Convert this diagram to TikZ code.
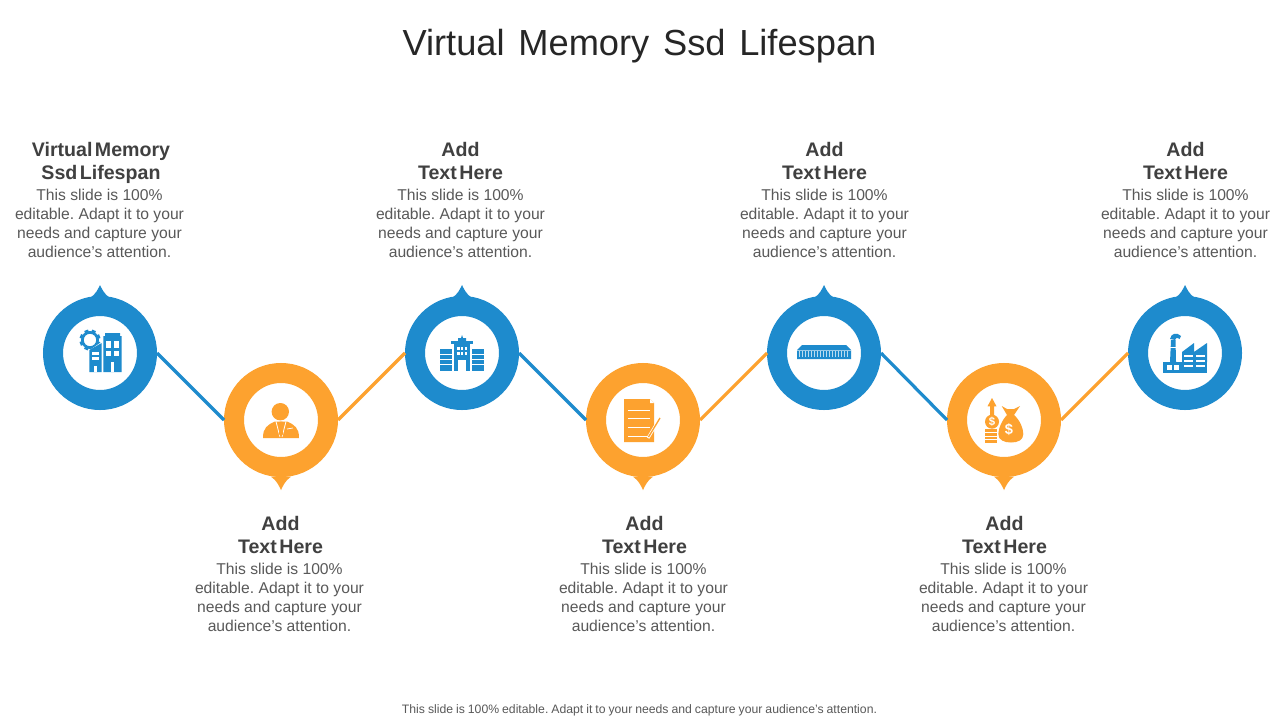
\documentclass[tikz,border=0pt]{standalone}
\usepackage{fontspec}
\setmainfont{Liberation Sans}
\newfontfamily\headfont{Liberation Sans Bold}
\definecolor{bluec}{HTML}{1E8BCD}
\definecolor{orangec}{HTML}{FDA22F}
\definecolor{headc}{HTML}{404040}
\definecolor{bodyc}{HTML}{595959}
\definecolor{titlec}{HTML}{262626}
\tikzset{
  x=0.75pt,y=-0.75pt,
  ring/.style={circle,draw=#1,fill=white,line width=15pt,minimum size=70.5pt,inner sep=0pt},
  link/.style={draw=#1,line width=2.4pt},
  headtxt/.style={anchor=north,align=center,inner sep=0pt,text=headc,font=\headfont\fontsize{14.7pt}{17.25pt}\selectfont},
  bodytxt/.style={anchor=north,align=center,inner sep=0pt,text=bodyc,font=\fontsize{11.75pt}{14.25pt}\selectfont},
  cutline/.style={draw=white,line width=0.6pt},
}
\newcommand{\bodytext}{This slide is 100\%\\editable. Adapt it to your\\needs and capture your\\audience's attention.}
\newcommand{\hsp}{\spaceskip=1.85pt\relax}
\newcommand{\station}[5]{% name,x,y,colour,tip direction
  \fill[#4,shift={(#2,#3)}] (0,#5*68) .. controls (2,#5*64) and (4,#5*59) .. (10,#5*55) -- (-10,#5*55) .. controls (-4,#5*59) and (-2,#5*64) .. (0,#5*68) -- cycle;
  \node[ring=#4] (#1) at (#2,#3) {};
}
\newcommand{\block}[6]{% name,head x,heady,heading,body x,bodyy
  \node[headtxt] (#1h) at (#2,#3) {#4};
  \node[bodytxt] (#1b) at (#5,#6) {\bodytext};
}
\begin{document}
\frenchspacing
\begin{tikzpicture}
\useasboundingbox (0,0) rectangle (1280,720);
\fill[white] (0,0) rectangle (1280,720);
\node[anchor=center,inner sep=0pt,text=titlec,font=\fontsize{27.2pt}{32pt}\selectfont] (title) at (639.5,46) {\spaceskip=10.3pt\relax Virtual Memory Ssd Lifespan};

\station{s1}{100}{353}{bluec}{-1}
\station{s2}{281}{420}{orangec}{1.03}
\station{s3}{462}{353}{bluec}{-1}
\station{s4}{643}{420}{orangec}{1.03}
\station{s5}{824}{353}{bluec}{-1}
\station{s6}{1004}{420}{orangec}{1.03}
\station{s7}{1185}{353}{bluec}{-1}

\draw[link=bluec] (s1.east) -- (s2.west);
\draw[link=orangec] (s2.east) -- (s3.west);
\draw[link=bluec] (s3.east) -- (s4.west);
\draw[link=orangec] (s4.east) -- (s5.west);
\draw[link=bluec] (s5.east) -- (s6.west);
\draw[link=orangec] (s6.east) -- (s7.west);

\block{t1}{101}{142.5}{\hsp Virtual Memory\\\hsp Ssd Lifespan}{99.5}{188.5}
\block{t2}{280.5}{516.5}{Add\\\hsp Text Here}{279.5}{562.5}
\block{t3}{460.5}{142.5}{Add\\\hsp Text Here}{460.5}{188.5}
\block{t4}{644.5}{516.5}{Add\\\hsp Text Here}{643.5}{562.5}
\block{t5}{824.5}{142.5}{Add\\\hsp Text Here}{824.5}{188.5}
\block{t6}{1004.5}{516.5}{Add\\\hsp Text Here}{1003.5}{562.5}
\block{t7}{1185.5}{142.5}{Add\\\hsp Text Here}{1185.5}{188.5}

\node[anchor=center,inner sep=0pt,text=bodyc,font=\fontsize{9.17pt}{11pt}\selectfont] (foot) at (639.5,710) {\spaceskip=2.23pt\relax This slide is 100\% editable. Adapt it to your needs and capture your audience's attention.};

% icon 1: gear and buildings
\begin{scope}[shift={(100,353)}]
  \draw[bluec,line width=2pt] (-10,-13) circle (7.6);
  \foreach \a in {0,45,...,315}{\fill[bluec,shift={(-10,-13)},rotate=\a+22] (7,-2) rectangle (10.5,2);}
  \fill[white] (-13,-1) -- (3,-12) -- (3,-24) -- (24,-24) -- (24,22) -- (-13,22) -- cycle;
  \fill[bluec] (-10.7,-3) -- (1.7,-10) -- (1.7,19) -- (-10.7,19) -- cycle;
  \fill[bluec] (3.3,-17) -- (5,-17) -- (5,-20) -- (20,-20) -- (20,-17) -- (21.7,-17) -- (21.7,19) -- (3.3,19) -- cycle;
  \fill[white] (-8.3,-0.7) rectangle (-0.7,1.7);
  \fill[white] (-8.3,4.3) rectangle (-0.7,6.7);
  \fill[white] (-6,13.3) rectangle (-2.7,19);
  \foreach \xx in {6,14}{\fill[white] (\xx,-11.7) rectangle (\xx+5.3,-5);\fill[white] (\xx,-1.7) rectangle (\xx+5.3,3.3);}
  \fill[white] (10.7,9.3) rectangle (14,19);
\end{scope}

% icon 2: person
\begin{scope}[shift={(281,420)}]
  \fill[orangec] (-0.7,-8.3) circle (8.7);
  \fill[orangec] (-18,18) .. controls (-18,8) and (-14,5) .. (-6,1.5) -- (6,1.5) .. controls (14,5) and (18,8) .. (18,18) -- cycle;
  \draw[white,line width=0.6pt] (-5,1.5) -- (-1,17) (5,1.5) -- (1,17);
  \fill[orangec] (-1.5,1.5) -- (1.5,1.5) -- (1,6) -- (2,14) -- (0,17) -- (-2,14) -- (-1,6) -- cycle;
  \draw[white,line width=0.5pt] (6,9) -- (12,8);
\end{scope}

% icon 3: office block
\begin{scope}[shift={(462,353)}]
  \fill[bluec] (-22,-4) rectangle (-10,18);
  \fill[bluec] (10,-4) rectangle (22,18);
  \fill[bluec] (-8,-12) rectangle (8,18);
  \fill[bluec] (-11,-12) rectangle (11,-9);
  \fill[bluec] (-4,-12) -- (-4,-15) -- (-1,-15) -- (0,-18) -- (1,-15) -- (4,-15) -- (4,-12) -- cycle;
  \foreach \yy in {1.5,6.5,11.5}{\draw[cutline] (-22,\yy) -- (-10,\yy); \draw[cutline] (10,\yy) -- (22,\yy);}
  \foreach \xx in {-5,-1.2,2.6}{\foreach \yy in {-6,-1}{\fill[white] (\xx,\yy) rectangle (\xx+2.6,\yy+3.2);}}
  \fill[white] (-4,18) -- (-4,7) -- (4,7) -- (4,18) -- cycle;
\end{scope}

% icon 4: document and pen
\begin{scope}[shift={(643,420)}]
  \fill[orangec] (-19,-21) -- (7,-21) -- (11,-17) -- (11,22) -- (-19,22) -- cycle;
  \fill[white] (7,-21) -- (11,-17) -- (7,-17) -- cycle;
  \foreach \yy in {-10,-1.7,7.3,16.7}{\draw[cutline] (-15,\yy) -- (7,\yy);}
  \draw[white,line width=2.2pt] (17,-2) -- (5,18);
  \draw[orangec,line width=1pt] (17,-2) -- (5.5,17);
\end{scope}

% icon 5: server rack
\begin{scope}[shift={(824,353)}]
  \fill[bluec] (-22,-8) -- (22,-8) -- (27,-3) -- (27,6) -- (-27,6) -- (-27,-3) -- cycle;
  \draw[bluec!45!white,line width=0.5pt] (-27,-2.6) -- (27,-2.6);
  \foreach \xx in {-25,-22,...,25}{\draw[bluec!30!white,line width=0.6pt] (\xx,-2) -- (\xx,4);}
\end{scope}

% icon 6: money bag and coins
\begin{scope}[shift={(1004,420)}]
  \fill[orangec] (-12,-22) -- (-16.5,-13.7) -- (-14,-13.7) -- (-14,-4) -- (-10,-4) -- (-10,-13.7) -- (-7.5,-13.7) -- cycle;
  \fill[orangec] (-12,1.7) circle (7);
  \foreach \yy in {9.3,13,16.7,20}{\fill[orangec] (-19,\yy) rectangle (-7,\yy+2.7);}
  \fill[orangec] (-2.3,-14) -- (3,-11) -- (10,-11) -- (16,-14) -- (10,-5) .. controls (16,0) and (19.3,9) .. (19.3,14) .. controls (19.3,20) and (14,22.5) .. (7,22.5) .. controls (0,22.5) and (-5.7,20) .. (-5.7,14) .. controls (-5.7,9) and (-2,0) .. (3,-5) -- cycle;
  \node[inner sep=0pt,text=white,font=\bfseries\fontsize{8.5pt}{8.5pt}\selectfont] (coinsign) at (-12,1.7) {\$};
  \node[inner sep=0pt,text=white,font=\bfseries\fontsize{11pt}{11pt}\selectfont] (bagsign) at (5,10) {\$};
\end{scope}

% icon 7: factory
\begin{scope}[shift={(1185,353)}]
  \fill[bluec] (-22,9) rectangle (22,20);
  \fill[bluec] (-15,9) -- (-14,-13) -- (-9.5,-13) -- (-9,9) -- cycle;
  \fill[bluec] (-15,-14) .. controls (-14,-20) and (-8,-21) .. (-4,-17) -- (-5.5,-14) .. controls (-8,-16) and (-10,-15) .. (-10,-13) -- cycle;
  \draw[white,line width=0.5pt] (-15,-6) -- (-9,-6);
  \fill[bluec] (-3,9) -- (-3,-1) -- (9,-10) -- (9,-1) -- (22,-10) -- (22,9) -- cycle;
  \foreach \yy in {3,8,13}{\draw[white,line width=1pt] (-1,\yy) -- (8,\yy); \draw[white,line width=1pt] (11,\yy) -- (20,\yy);}
  \fill[white] (-18,12) rectangle (-13,17);
  \fill[white] (-11,12) rectangle (-6,17);
\end{scope}
\end{tikzpicture}
\end{document}
